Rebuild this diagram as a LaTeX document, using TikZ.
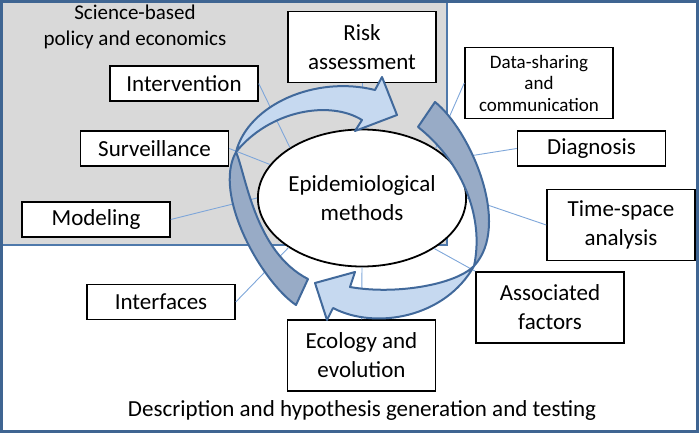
\documentclass[tikz,border=0pt]{standalone}
\usepackage{fontspec}
\setmainfont{Carlito}
\usetikzlibrary{shapes.geometric}
\definecolor{framebl}{HTML}{3F6592}
\definecolor{zonebl}{HTML}{4F79AB}
\definecolor{greyzone}{HTML}{D9D9D9}
\definecolor{linkbl}{HTML}{7EA6D9}
\definecolor{edgebl}{HTML}{41699B}
\definecolor{lightbl}{HTML}{C6D9F0}
\definecolor{darkbl}{HTML}{98ABC6}

\begin{document}
\begin{tikzpicture}[x=1pt,y=-1pt]
        \tikzstyle{every node}=[font=\fontsize{23}{29}\selectfont, align=center]
        \tikzstyle{box}=[draw=black, line width=1.5pt, fill=white, minimum width=148pt, minimum height=35pt, inner sep=0pt]
        \tikzstyle{tallbox}=[box, minimum height=71pt]
        \tikzstyle{link}=[draw=linkbl, line width=0.9pt]
        \tikzstyle{backarr}=[fill=darkbl, draw=edgebl, line width=2pt, line join=round]
        \tikzstyle{frontarr}=[fill=lightbl, draw=edgebl, line width=2pt, line join=round]
        \useasboundingbox (0,0) rectangle (699,433);
        \fill[greyzone] (0,0) rectangle (447,245);
        \draw[zonebl, line width=1.5pt] (0,245) -- (447,245) -- (447,0);
        \node[font=\fontsize{21}{26}\selectfont] (policy) at (135,27) {Science-based\\policy and economics};
        \node (descr) at (362,410) {Description and hypothesis generation and testing};
        \node[ellipse, draw=black, line width=1.8pt, fill=white, minimum width=202pt, minimum height=137pt, inner sep=0pt] (epi) at (362,198) {Epidemiological\\methods};
        \node[tallbox] (risk) at (362,47) {Risk\\assessment};
        \node[tallbox, font=\fontsize{19}{21.5}\selectfont] (share) at (539,83) {Data-sharing\\and\\communication};
        \node[box] (diag) at (591.5,148.5) {Diagnosis};
        \node[tallbox] (timesp) at (621,225) {Time-space\\analysis};
        \node[tallbox] (assoc) at (550,307.5) {Associated\\factors};
        \node[tallbox] (ecol) at (361.5,355.5) {Ecology and\\evolution};
        \node[box] (interf) at (161,302) {Interfaces};
        \node[box] (model) at (96,219.5) {Modeling};
        \node[box] (surv) at (154.5,148.5) {Surveillance};
        \node[box] (interv) at (184,83.5) {Intervention};
        \draw[link] (interv.east) -- (epi.145);
        \draw[link] (surv.east) -- (epi.160);
        \draw[link] (model.east) -- (epi.180);
        \draw[link] (interf.east) -- (epi.214);
        \draw[link] (ecol.north) -- (epi.270);
        \draw[link] (assoc.north west) -- (epi.325);
        \draw[link] (timesp.west) -- (epi.0);
        \draw[link] (diag.west) -- (epi.24);
        \draw[link] (share.west) -- (epi.34);
        \draw[link] (risk.south) -- (epi.90);
        \filldraw[backarr] (296,305) .. controls (262,282) and (212,195) .. (236,152) .. controls (246,175) and (255,252) .. (308,279) -- cycle;
        \filldraw[frontarr] (236,152) .. controls (248,105) and (315,75) .. (375,90) -- (382,77) -- (397,115) -- (355,131) -- (362,120) .. controls (330,100) and (270,110) .. (236,152) -- cycle;
        \filldraw[backarr] (435,102) .. controls (470,130) and (512,225) .. (474,266) .. controls (485,215) and (460,160) .. (418,127) -- cycle;
        \filldraw[frontarr] (474,266) .. controls (455,285) and (395,295) .. (350,287) -- (355,272) -- (315,283) -- (327,320) -- (333,308) .. controls (375,330) and (445,318) .. (474,266) -- cycle;
        \draw[framebl, line width=3pt] (1.5,1.5) rectangle (697.5,431.5);
    \end{tikzpicture}
\end{document}
